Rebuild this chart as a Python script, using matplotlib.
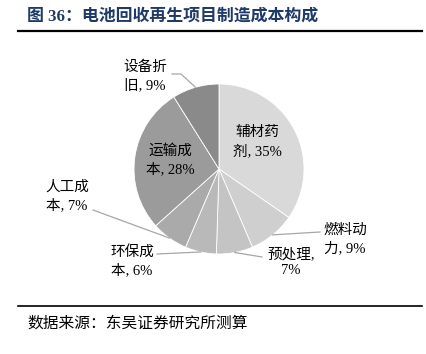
import numpy as np
import matplotlib.pyplot as plt

plt.rcParams['font.family'] = ['Liberation Serif', 'Noto Sans CJK SC', 'DejaVu Sans']

# 数据（顺时针，自顶部开始）
labels = ['辅材药\n剂, 35%', '燃料动\n力, 9%', '预处理,\n7%', '环保成\n本, 6%',
          '人工成\n本, 7%', '运输成\n本, 28%', '设备折\n旧, 9%']
values = [35, 9, 7, 6, 7, 28, 9]
colors = ['#d9d9d9', '#cfcfcf', '#c4c4c4', '#b9b9b9', '#aaaaaa', '#9b9b9b', '#8a8a8a']

W, H = 427, 354
fig = plt.figure(figsize=(W / 100, H / 100), dpi=100)

# 饼图中心与半径（像素）
cx, cy, r = 219, 169, 85
ax = fig.add_axes([(cx - r) / W, (H - cy - r) / H, 2 * r / W, 2 * r / H])
wedges, _ = ax.pie(values, colors=colors, startangle=90, counterclock=False,
                   wedgeprops=dict(edgecolor='white', linewidth=0.6))
ax.set_xlim(-1, 1)
ax.set_ylim(-1, 1)
ax.set_aspect('equal')
ax.axis('off')


def d(px, py):
    return (px - cx) / r, (cy - py) / r


# 标签位置（像素）与引导线起点
label_pos = [(257, 142), (345, 239), (291, 261), (132, 261),
             (67, 196), (170, 160), (145, 76)]
leader = [None, [(320, 232)], [(262, 257)], [(157, 254)],
          [(93, 210)], None, [(172, 74), (181, 74)]]

fs = 10.5
for i, (w, lab) in enumerate(zip(wedges, labels)):
    px, py = label_pos[i]
    x, y = d(px, py)
    if i == 2:
        ax.text(x, y, '预处理,', ha='center', va='bottom', fontsize=fs)
        ax.text(x, y - 0.04, '7%', ha='center', va='top', fontsize=fs)
    else:
        ax.text(x, y, lab, ha='center', va='center', fontsize=fs, linespacing=1.4)
    if leader[i] is not None:
        ang = np.deg2rad((w.theta1 + w.theta2) / 2)
        ex, ey = np.cos(ang), np.sin(ang)
        pts = [d(*p) for p in leader[i]] + [(ex, ey)]
        xs, ys = zip(*pts)
        ax.plot(xs, ys, color='#a6a6a6', linewidth=0.9, clip_on=False)

# 标题与来源
fig.text(27 / W, 1 - 17 / H, '图 36：电池回收再生项目制造成本构成', fontsize=12.2,
         fontweight='bold', color='#1f3a68', va='center', ha='left')
fig.add_artist(plt.Line2D([18 / W, 422 / W], [1 - 31 / H, 1 - 31 / H],
                          color='black', linewidth=1.6))
fig.add_artist(plt.Line2D([18 / W, 422 / W], [1 - 306 / H, 1 - 306 / H],
                          color='black', linewidth=1.2))
fig.text(27 / W, 1 - 324 / H, '数据来源：东吴证券研究所测算', fontsize=11.3,
         color='black', va='center', ha='left')

fig.savefig('out.png', dpi=100, facecolor='white')
